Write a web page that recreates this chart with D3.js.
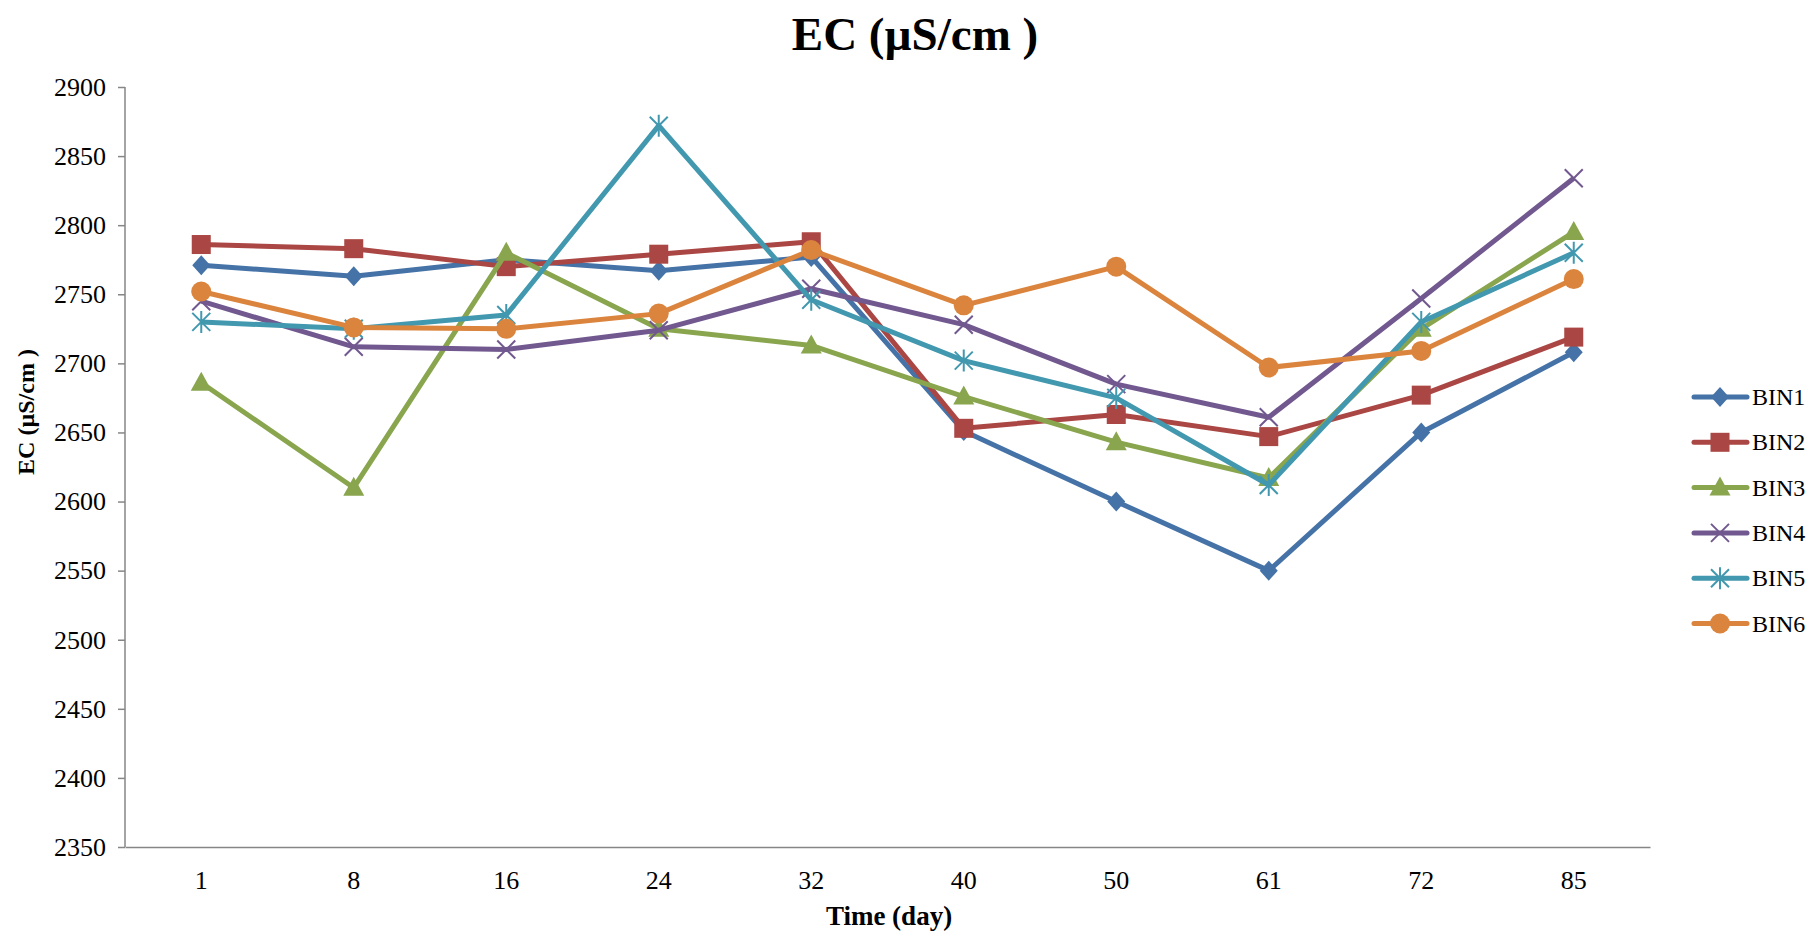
<!DOCTYPE html>
<html>
<head>
<meta charset="utf-8">
<script src="https://cdn.jsdelivr.net/npm/d3@7"></script>
<style>
  body { margin: 0; background: #fff; }
  text { font-family: "Liberation Serif", "Times New Roman", serif; }
</style>
</head>
<body>
<svg id="chart" width="1818" height="933"></svg>
<script>
var days = ["1", "8", "16", "24", "32", "40", "50", "61", "72", "85"];
var seriesNames = ["BIN1", "BIN2", "BIN3", "BIN4", "BIN5", "BIN6"];
var bin1 = [2771, 2763, 2775, 2767, 2777, 2651, 2600, 2550, 2650, 2708];
var bin2 = [2786, 2783, 2770, 2779, 2788, 2653, 2663, 2647, 2677, 2719];
var bin3 = [2686, 2610, 2780, 2725, 2713, 2676, 2643, 2617, 2725, 2795];
var bin4 = [2745, 2712, 2710, 2724, 2754, 2728, 2685, 2661, 2747, 2834];
var bin5 = [2730, 2725, 2735, 2872, 2746, 2702, 2675, 2612, 2730, 2780];
var bin6 = [2752, 2726, 2725, 2736, 2782, 2742, 2770, 2697, 2709, 2761];
var yTicks = [2350, 2400, 2450, 2500, 2550, 2600, 2650, 2700, 2750, 2800, 2850, 2900];

var colors = ["#4572A7", "#AA4643", "#89A54E", "#71588F", "#4198AF", "#DB843D"];
var markers = ["diamond", "square", "triangle", "x", "star", "circle"];
var allSeries = [bin1, bin2, bin3, bin4, bin5, bin6];

var svg = d3.select("#chart");
var margin = { top: 87, left: 125, right: 168, bottom: 86 };
var width = 1818, height = 933;

var x = d3.scaleBand().domain(days).range([margin.left, width - margin.right]);
var y = d3.scaleLinear().domain([2350, 2900]).range([height - margin.bottom, margin.top]);

// title
svg.append("text")
  .attr("x", 915).attr("y", 50)
  .attr("text-anchor", "middle")
  .style("font-size", "47px").style("font-weight", "bold")
  .text("EC (µS/cm )");

// y axis
var yAxis = svg.append("g")
  .attr("transform", "translate(" + margin.left + ",0)")
  .call(d3.axisLeft(y).tickValues(yTicks).tickSize(7).tickPadding(12).tickFormat(d3.format("d")));
yAxis.selectAll("path, line").attr("stroke", "#868686").attr("stroke-width", 1.5);
yAxis.selectAll("text").style("font-size", "26px").attr("fill", "#000");
yAxis.select(".domain").attr("d", "M0," + y(2900) + "V" + y(2350));

// x axis
var xAxis = svg.append("g")
  .attr("transform", "translate(0," + y(2350) + ")")
  .call(d3.axisBottom(x).tickSize(0).tickPadding(24));
xAxis.selectAll("path").attr("stroke", "#868686").attr("stroke-width", 1.5);
xAxis.selectAll("text").style("font-size", "26px").attr("fill", "#000");

// axis titles
svg.append("text")
  .attr("transform", "translate(34,412) rotate(-90)")
  .attr("text-anchor", "middle")
  .style("font-size", "24px").style("font-weight", "bold")
  .text("EC (µS/cm )");

svg.append("text")
  .attr("x", 889)
  .attr("y", 925)
  .attr("text-anchor", "middle")
  .style("font-size", "27px").style("font-weight", "bold")
  .text("Time (day)");

function drawMarker(g, type, color, cx, cy) {
  if (type === "diamond") {
    g.append("path").attr("d", "M" + cx + "," + (cy - 10) + "L" + (cx + 9) + "," + cy + "L" + cx + "," + (cy + 10) + "L" + (cx - 9) + "," + cy + "Z").attr("fill", color);
  } else if (type === "square") {
    g.append("rect").attr("x", cx - 9.5).attr("y", cy - 9.5).attr("width", 19).attr("height", 19).attr("fill", color);
  } else if (type === "triangle") {
    g.append("path").attr("d", "M" + cx + "," + (cy - 11) + "L" + (cx + 10.5) + "," + (cy + 8) + "L" + (cx - 10.5) + "," + (cy + 8) + "Z").attr("fill", color);
  } else if (type === "circle") {
    g.append("circle").attr("cx", cx).attr("cy", cy).attr("r", 10).attr("fill", color);
  } else if (type === "x") {
    g.append("path").attr("d", "M" + (cx - 9) + "," + (cy - 9) + "L" + (cx + 9) + "," + (cy + 9) + "M" + (cx + 9) + "," + (cy - 9) + "L" + (cx - 9) + "," + (cy + 9))
      .attr("stroke", color).attr("stroke-width", 2).attr("fill", "none");
  } else if (type === "star") {
    g.append("path").attr("d", "M" + (cx - 9) + "," + (cy - 9) + "L" + (cx + 9) + "," + (cy + 9) + "M" + (cx + 9) + "," + (cy - 9) + "L" + (cx - 9) + "," + (cy + 9) + "M" + cx + "," + (cy - 11) + "L" + cx + "," + (cy + 11))
      .attr("stroke", color).attr("stroke-width", 2).attr("fill", "none");
  }
}

var line = d3.line()
  .x(function (d, i) { return x(days[i]) + x.bandwidth() / 2; })
  .y(function (d) { return y(d); });

for (var s = 0; s < allSeries.length; s++) {
  var g = svg.append("g").attr("class", "series");
  g.append("path")
    .datum(allSeries[s])
    .attr("d", line)
    .attr("fill", "none")
    .attr("stroke", colors[s])
    .attr("stroke-width", 5)
    .attr("stroke-linejoin", "round");
  for (var i = 0; i < allSeries[s].length; i++) {
    drawMarker(g, markers[s], colors[s], x(days[i]) + x.bandwidth() / 2, y(allSeries[s][i]));
  }
}

// legend
var legend = svg.append("g").attr("class", "legend");
for (var k = 0; k < seriesNames.length; k++) {
  var ly = 397 + k * 45.3;
  legend.append("line")
    .attr("x1", 1694).attr("x2", 1747).attr("y1", ly).attr("y2", ly)
    .attr("stroke", colors[k]).attr("stroke-width", 5).attr("stroke-linecap", "round");
  drawMarker(legend, markers[k], colors[k], 1720, ly);
  legend.append("text")
    .attr("x", 1752).attr("y", ly + 8)
    .style("font-size", "24px")
    .text(seriesNames[k]);
}
</script>
</body>
</html>
